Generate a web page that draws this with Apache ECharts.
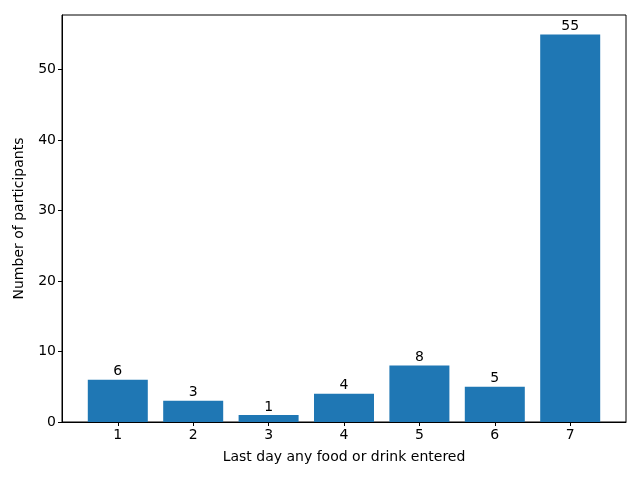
<!DOCTYPE html>
<html>
<head>
<meta charset="utf-8">
<script src="https://cdn.jsdelivr.net/npm/echarts@6/dist/echarts.min.js"></script>
<style>
  html, body { margin: 0; padding: 0; background: #fff; }
  #main { width: 640px; height: 480px; }
</style>
</head>
<body>
<div id="main"></div>
<script>
  // last day with food/drink entry vs participant count
  var days = [1, 2, 3, 4, 5, 6, 7];
  var counts = [6, 3, 1, 4, 8, 5, 55];
  var yTicks = [0, 10, 20, 30, 40, 50];

  var font = 'DejaVu Sans';
  var chart = echarts.init(document.getElementById('main'));

  var barData = days.map(function (d, i) { return [d, counts[i]]; });

  chart.setOption({
    animation: false,
    grid: {
      left: 62, right: 14, top: 15, bottom: 58,
      show: true, borderColor: '#000', borderWidth: 1
    },
    xAxis: {
      type: 'value',
      min: 0.26, max: 7.74,
      name: 'Last day any food or drink entered',
      nameLocation: 'middle',
      nameGap: 28,
      nameTextStyle: { color: '#000', fontSize: 14, fontFamily: font },
      axisLine: { show: true, lineStyle: { color: '#000' } },
      axisTick: { show: true, length: 4, lineStyle: { color: '#000' }, customValues: days },
      axisLabel: { color: '#000', fontSize: 14, fontFamily: font, margin: 6, customValues: days },
      splitLine: { show: false }
    },
    yAxis: {
      type: 'value',
      min: 0, max: 57.75,
      name: 'Number of participants',
      nameLocation: 'middle',
      nameGap: 36,
      nameTextStyle: { color: '#000', fontSize: 14, fontFamily: font },
      axisLine: { show: true, lineStyle: { color: '#000' } },
      axisTick: { show: true, length: 4, lineStyle: { color: '#000' }, customValues: yTicks },
      axisLabel: { color: '#000', fontSize: 14, fontFamily: font, margin: 6, customValues: yTicks },
      splitLine: { show: false }
    },
    series: [{
      type: 'bar',
      data: barData,
      barWidth: 60,
      itemStyle: { color: '#1f77b4' },
      label: {
        show: true, position: 'top', distance: 1,
        color: '#000', fontSize: 14, fontFamily: font
      }
    }]
  });
</script>
</body>
</html>
